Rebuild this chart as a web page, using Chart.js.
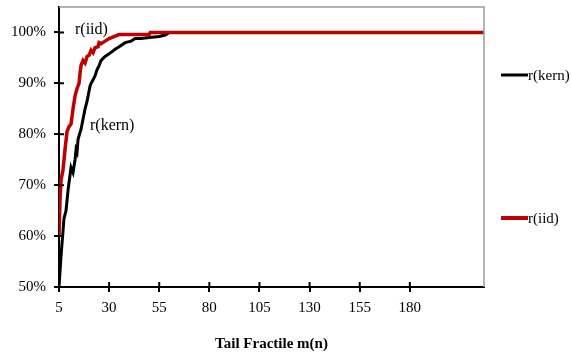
<!DOCTYPE html>
<html>
<head>
<meta charset="utf-8">
<script src="https://cdn.jsdelivr.net/npm/chart.js@4"></script>
<style>
  html, body { margin: 0; padding: 0; background: #fff; }
  #wrap { width: 571px; height: 353px; }
</style>
</head>
<body>
<div id="wrap"><canvas id="chart" width="571" height="353"></canvas></div>
<script>
// ===== Data =====
const kernM   = [5, 6, 7, 7.5, 8.5, 9.5, 10.5, 11, 12, 13, 13.5, 14, 14.5, 16, 17, 18, 19, 20, 20.5, 21, 22, 23, 24, 25, 26, 28, 30, 33, 35, 38, 41, 43, 46, 50, 55, 58, 60, 217];
const kernVal = [50, 56, 61, 63.5, 65, 69, 72, 73.5, 72.5, 75, 77, 76.5, 79, 81, 83, 85, 86.5, 88.5, 89.5, 90, 90.7, 91.5, 92.7, 93.5, 94.5, 95.3, 95.8, 96.7, 97.2, 98, 98.3, 98.8, 98.8, 99, 99.2, 99.5, 100, 100];

const iidM   = [5, 5.5, 6, 7, 8, 9, 10, 11, 12, 13, 14, 15, 15.5, 16, 17, 18, 19, 20, 21, 22, 23, 24.5, 25, 26, 28, 30, 33, 35, 50, 50.5, 217];
const iidVal = [60, 67, 71, 73, 77, 80.5, 81.5, 82, 85, 87.5, 89, 90, 92, 93.5, 94.5, 94, 95.3, 95.5, 96.5, 96, 97, 97.2, 98, 97.8, 98.3, 98.8, 99.3, 99.6, 99.6, 100, 100];

const xTicks = [5, 30, 55, 80, 105, 130, 155, 180];
const yTicks = [50, 60, 70, 80, 90, 100];

const seriesNames = ["r(kern)", "r(iid)"];
const seriesColors = ["#000000", "#c00000"];

const serif = "'Liberation Serif', 'Times New Roman', serif";

const toPoints = (xs, ys) => xs.map((x, i) => ({ x, y: ys[i] }));

// ===== Frame, legend and in-plot labels =====
const decorations = {
  id: "decorations",
  afterDraw(chart) {
    const { ctx, chartArea: a, scales } = chart;
    ctx.save();
    // grey top/right frame
    ctx.strokeStyle = "#9a9a9a";
    ctx.lineWidth = 1.5;
    ctx.beginPath();
    ctx.moveTo(a.left, a.top);
    ctx.lineTo(a.right, a.top);
    ctx.lineTo(a.right, a.bottom);
    ctx.stroke();

    // tick marks poking into the plot
    ctx.strokeStyle = "#000";
    ctx.lineWidth = 2;
    ctx.beginPath();
    yTicks.forEach(v => {
      const y = scales.y.getPixelForValue(v);
      ctx.moveTo(a.left, y); ctx.lineTo(a.left + 5, y);
    });
    xTicks.forEach(v => {
      const x = scales.x.getPixelForValue(v);
      ctx.moveTo(x, a.bottom); ctx.lineTo(x, a.bottom - 5);
    });
    ctx.stroke();

    // legend on the right
    ctx.font = "15px " + serif;
    ctx.textBaseline = "middle";
    ctx.fillStyle = "#000";
    const legendY = [75, 218];
    seriesNames.forEach((name, i) => {
      ctx.strokeStyle = seriesColors[i];
      ctx.lineWidth = i === 0 ? 3 : 4;
      ctx.beginPath();
      ctx.moveTo(501, legendY[i]);
      ctx.lineTo(528, legendY[i]);
      ctx.stroke();
      ctx.fillText(name, 528, legendY[i] + 1);
    });

    // labels next to the curves
    ctx.font = "16px " + serif;
    ctx.fillText("r(iid)", 75, 30);
    ctx.fillText("r(kern)", 90, 126);
    ctx.restore();
  }
};

new Chart(document.getElementById("chart"), {
  type: "line",
  data: {
    datasets: [
      {
        label: seriesNames[0],
        data: toPoints(kernM, kernVal),
        borderColor: seriesColors[0],
        borderWidth: 3,
        pointRadius: 0,
        tension: 0,
        order: 1
      },
      {
        label: seriesNames[1],
        data: toPoints(iidM, iidVal),
        borderColor: seriesColors[1],
        borderWidth: 3.5,
        pointRadius: 0,
        tension: 0,
        order: 0
      }
    ]
  },
  options: {
    responsive: false,
    animation: false,
    layout: { padding: { top: 7, right: 87, left: 0, bottom: 0 } },
    plugins: {
      legend: { display: false },
      tooltip: { enabled: false }
    },
    scales: {
      x: {
        type: "linear",
        min: 5,
        max: 217,
        afterBuildTicks: s => { s.ticks = xTicks.map(v => ({ value: v })); },
        afterFit: s => { s.height = 66; s.paddingLeft = 0; s.paddingRight = 0; },
        border: { color: "#000", width: 2 },
        grid: { drawOnChartArea: false, color: "#000", lineWidth: 2, tickLength: 5 },
        ticks: {
          color: "#000",
          font: { family: serif, size: 15 },
          padding: 7,
          maxRotation: 0
        },
        title: {
          display: true,
          text: "Tail Fractile m(n)",
          color: "#000",
          font: { family: serif, size: 15, weight: "bold" },
          padding: { top: 7, bottom: 0 }
        }
      },
      y: {
        min: 50,
        max: 105,
        afterBuildTicks: s => { s.ticks = yTicks.map(v => ({ value: v })); },
        afterFit: s => { s.width = 59; s.paddingTop = 0; s.paddingBottom = 0; },
        border: { color: "#000", width: 2 },
        grid: { drawOnChartArea: false, color: "#000", lineWidth: 2, tickLength: 5 },
        ticks: {
          color: "#000",
          font: { family: serif, size: 15 },
          padding: 8,
          callback: v => v + "%"
        }
      }
    }
  },
  plugins: [decorations]
});
</script>
</body>
</html>
